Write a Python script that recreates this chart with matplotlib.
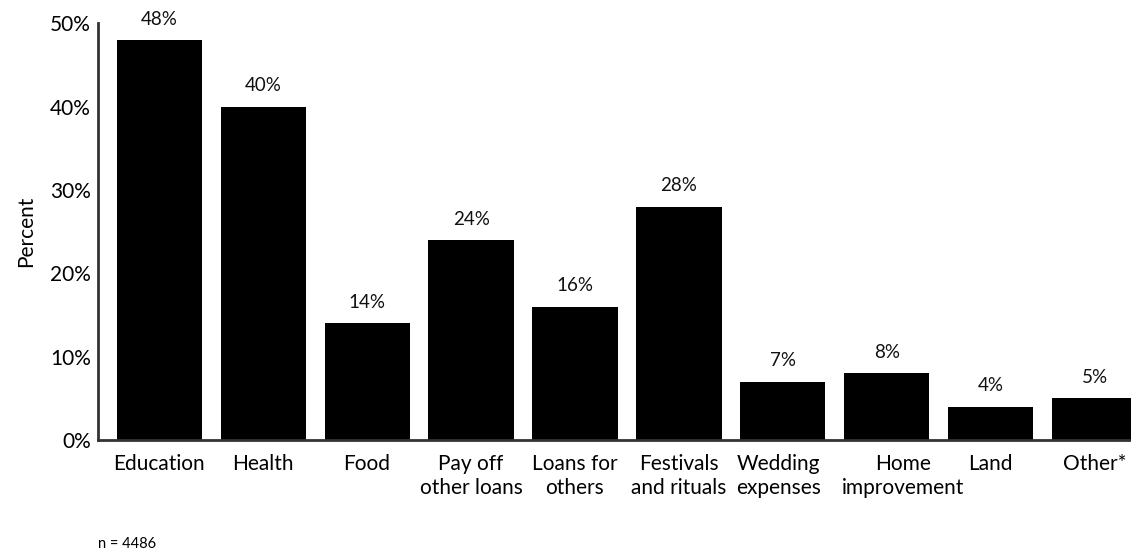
import matplotlib.pyplot as plt
import matplotlib.transforms as mtransforms
import numpy as np

plt.rcParams['font.family'] = ['Lato', 'DejaVu Sans']

# loan use categories and share of borrowers
categories = ['Education', 'Health', 'Food', 'Pay off\nother loans', 'Loans for\nothers',
              'Festivals\nand rituals', 'Wedding\nexpenses', 'Home\nimprovement', 'Land', 'Other*']
percent = [48, 40, 14, 24, 16, 28, 7, 8, 4, 5]
yticks = [0, 10, 20, 30, 40, 50]
n_note = 'n = 4486'

fig = plt.figure(figsize=(11.31, 5.58), dpi=100)
ax = fig.add_axes([0.0866, 0.2115, 0.9134, 0.7465])

x = np.arange(len(categories))
bars = ax.bar(x, percent, width=0.82, color='black')

for xi, v in zip(x, percent):
    ax.text(xi, v + 1.5, f'{v}%', ha='center', va='bottom', fontsize=13.5, color='#111111')

ax.set_xlim(-0.59, 9.35)
ax.set_ylim(0, 50)
ax.set_xticks(x)
ax.set_xticklabels(categories, fontsize=15, linespacing=1.25)
ax.set_yticks(yticks)
ax.set_yticklabels([f'{t}%' for t in yticks], fontsize=15)
ax.tick_params(axis='both', length=0, pad=5)
ax.tick_params(axis='x', pad=10)
ax.set_ylabel('Percent', fontsize=15, labelpad=10)

# nudge the two crowded labels apart
shifts = {6: -4, 7: 16}
for i, lab in enumerate(ax.get_xticklabels()):
    if i in shifts:
        lab.set_transform(lab.get_transform() +
                          mtransforms.ScaledTranslation(shifts[i] / 100, 0, fig.dpi_scale_trans))

for side in ['top', 'right']:
    ax.spines[side].set_visible(False)
for side in ['left', 'bottom']:
    ax.spines[side].set_linewidth(2)
    ax.spines[side].set_color('#333333')

fig.text(0.087, 0.012, n_note, fontsize=10.5, ha='left', va='bottom')

fig.savefig('out.png', dpi=100)
